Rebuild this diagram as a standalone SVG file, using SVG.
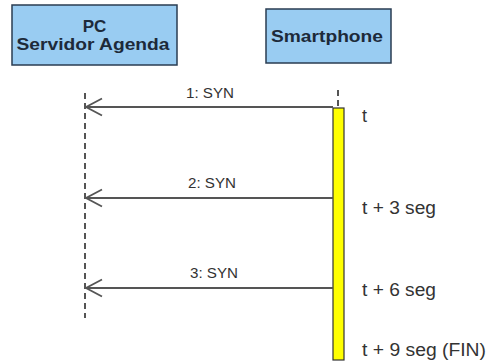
<svg xmlns="http://www.w3.org/2000/svg" width="490" height="362" viewBox="0 0 490 362">
<defs>
<style>
.box{fill:#99ccf2;stroke:#2a3d52;stroke-width:1.5}
.title{font-family:"Liberation Sans",Arial,sans-serif;font-weight:bold;font-size:17px;fill:#1d2a3a;text-anchor:middle}
.life{stroke:#555;stroke-width:2;stroke-dasharray:6,4}
.msg{stroke:#555;stroke-width:1.8;fill:none}
.lbl{font-family:"Liberation Sans",Arial,sans-serif;font-size:14px;fill:#333;text-anchor:middle}
.time{font-family:"Liberation Sans",Arial,sans-serif;font-size:18px;fill:#333}
</style>
<marker id="open" markerWidth="20" markerHeight="20" refX="17" refY="10" orient="auto" markerUnits="userSpaceOnUse">
<path d="M1,1.5 L17,10 L1,18.5" fill="none" stroke="#555" stroke-width="1.8"/>
</marker>
</defs>
<g id="pc">
<rect class="box" x="12" y="5" width="165" height="60"/>
<text class="title" x="94.5" y="32">PC</text>
<text class="title" x="93" y="50" textLength="153" lengthAdjust="spacingAndGlyphs">Servidor Agenda</text>
</g>
<g id="smartphone">
<rect class="box" x="266" y="9" width="125" height="54"/>
<text class="title" x="327" y="42" textLength="112" lengthAdjust="spacingAndGlyphs">Smartphone</text>
</g>
<g id="lifelines">
<line class="life" x1="85" y1="93" x2="85" y2="318"/>
<line class="life" x1="338" y1="90" x2="338" y2="108"/>
</g>
<g id="activation">
<rect x="333" y="108" width="11" height="252" fill="#ffff00" stroke="#333" stroke-width="1.2"/>
</g>
<g id="connectors">
<line class="msg" x1="333" y1="107" x2="86" y2="107" marker-end="url(#open)"/>
<line class="msg" x1="333" y1="198" x2="86" y2="198" marker-end="url(#open)"/>
<line class="msg" x1="333" y1="288" x2="86" y2="288" marker-end="url(#open)"/>
<text class="lbl" x="210" y="98" textLength="48" lengthAdjust="spacingAndGlyphs">1: SYN</text>
<text class="lbl" x="212" y="188" textLength="48" lengthAdjust="spacingAndGlyphs">2: SYN</text>
<text class="lbl" x="214" y="278" textLength="48" lengthAdjust="spacingAndGlyphs">3: SYN</text>
</g>
<g id="times">
<text class="time" x="362" y="122">t</text>
<text class="time" x="362" y="214" textLength="74" lengthAdjust="spacingAndGlyphs">t + 3 seg</text>
<text class="time" x="362" y="296" textLength="74" lengthAdjust="spacingAndGlyphs">t + 6 seg</text>
<text class="time" x="362" y="356" textLength="124" lengthAdjust="spacingAndGlyphs">t + 9 seg (FIN)</text>
</g>
</svg>
